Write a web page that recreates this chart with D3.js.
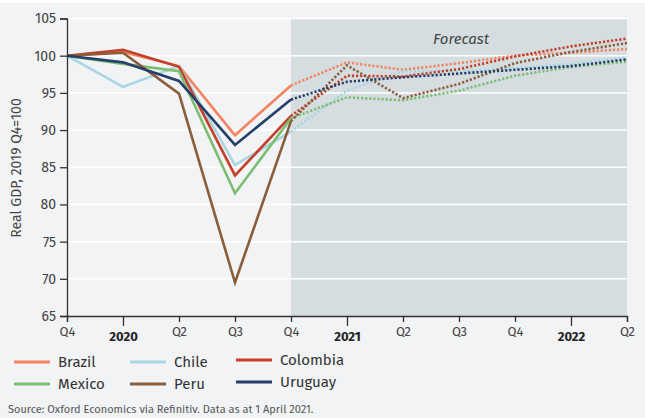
<!DOCTYPE html>
<html><head><meta charset="utf-8">
<script src="https://cdn.jsdelivr.net/npm/d3@7"></script>
<style>
html,body{margin:0;padding:0;background:#f1f3f5;}
svg{display:block;font-family:"Fira Sans","Open Sans","Noto Sans",sans-serif;}
</style></head><body>
<svg id="c" width="645" height="418"></svg>
<script>
const quarters = ["Q4","2020","Q2","Q3","Q4","2021","Q2","Q3","Q4","2022","Q2"];
const yearTicks = ["2020","2021","2022"];
const forecastStart = 4;
const yTicks = [65,70,75,80,85,90,95,100,105];
const countries = ["Brazil","Chile","Colombia","Mexico","Peru","Uruguay"];
const colors = ["#f4845f","#a9d6e3","#c4402b","#7dbd72","#8a5d3b","#243f69"];
const brazil   = [100,100.5,98.6,89.3,96.0,99.1,98.1,99.0,100.0,100.4,100.9];
const chile    = [100,95.8,98.6,85.3,89.8,95.3,97.9,97.9,98.3,98.9,99.8];
const colombia = [100,100.8,98.5,83.9,91.9,97.3,97.2,98.2,99.9,101.25,102.3];
const mexico   = [100,98.9,97.9,81.5,91.6,94.4,94.0,95.3,97.3,98.5,99.2];
const peru     = [100,100.4,94.9,69.5,91.2,98.7,94.3,96.2,99.0,100.5,101.7];
const uruguay  = [100,99.1,96.6,88.0,94.1,96.5,97.1,97.6,98.1,98.6,99.5];
const series = [brazil,chile,colombia,mexico,peru,uruguay];

const svg = d3.select("#c");
svg.append("rect").attr("x",0).attr("y",0).attr("width",645).attr("height",3).attr("fill","#ffffff");
const L=67,R=627,T=18.5,B=316;
const x = d3.scalePoint().domain(d3.range(quarters.length)).range([L,R]);
const y = d3.scaleLinear().domain([65,105]).range([B,T]);

// forecast shading
svg.append("rect").attr("x",x(forecastStart)).attr("y",y(105)).attr("width",x(quarters.length-1)-x(forecastStart))
  .attr("height",y(65)-y(105)).attr("fill","#d5dde0");
// grid
svg.selectAll("line.grid").data(yTicks.filter(d=>d>65)).enter().append("line")
  .attr("x1",L).attr("x2",R).attr("y1",d=>y(d)).attr("y2",d=>y(d))
  .attr("stroke","#ffffff").attr("stroke-width",1.5);
svg.append("text").attr("x",(x(forecastStart)+R)/2+2).attr("y",44).attr("text-anchor","middle")
  .attr("font-style","italic").attr("font-size",15).attr("fill","#444").text("Forecast");

// lines
series.forEach((s,k)=>{
  const solid = s.slice(0,forecastStart+1);
  svg.append("path").attr("d",d3.line().x((d,i)=>x(i)).y(d=>y(d))(solid))
    .attr("fill","none").attr("stroke",colors[k]).attr("stroke-width",2.6).attr("stroke-linejoin","miter");
  const dots = s.slice(forecastStart);
  svg.append("path").attr("d",d3.line().x((d,i)=>x(i+forecastStart)).y(d=>y(d))(dots))
    .attr("fill","none").attr("stroke",colors[k]).attr("stroke-width",2.6).attr("stroke-dasharray","2.2,1.9");
});

// axes
const ya = d3.axisLeft(y).tickValues(yTicks).tickSize(7).tickPadding(4);
const gy = svg.append("g").attr("transform",`translate(${L},0)`).call(ya);
gy.select(".domain").attr("stroke","#333").attr("stroke-width",1.3);
gy.selectAll(".tick line").attr("stroke","#333").attr("stroke-width",1.3);
gy.selectAll(".tick text").attr("font-size",14).attr("fill","#444").attr("font-family","'Fira Sans','Open Sans',sans-serif");

const xa = d3.axisBottom(x).tickFormat(i=>quarters[i]).tickSize(6).tickPadding(5);
const gx = svg.append("g").attr("transform",`translate(0,${B})`).call(xa);
gx.select(".domain").attr("stroke","#333").attr("stroke-width",1.3);
gx.selectAll(".tick line").attr("stroke","#333").attr("stroke-width",1.3);
gx.selectAll(".tick text").attr("font-size",13).attr("fill","#444").attr("font-family","'Fira Sans','Open Sans',sans-serif")
  .filter(i=>yearTicks.includes(quarters[i])).attr("font-weight","bold").attr("fill","#222").attr("dy","1.1em");
gx.selectAll(".tick line").filter(i=>yearTicks.includes(quarters[i])).attr("y2",10);

svg.append("text").attr("transform","translate(21,168) rotate(-90)").attr("text-anchor","middle")
  .attr("font-size",14).attr("fill","#444").text("Real GDP, 2019 Q4=100");

// legend
const legPos = [[14,362],[130,362],[236,360],[14,384],[130,384],[236,382]];
countries.forEach((c,k)=>{
  const [lx,ly]=legPos[k];
  svg.append("line").attr("x1",lx).attr("x2",lx+36).attr("y1",ly).attr("y2",ly)
    .attr("stroke",colors[k]).attr("stroke-width",2.8);
  svg.append("text").attr("x",lx+44).attr("y",ly+5).attr("font-size",15).attr("fill","#333").text(c);
});
svg.append("text").attr("x",8).attr("y",413).attr("font-size",11).attr("fill","#555")
  .text("Source: Oxford Economics via Refinitiv. Data as at 1 April 2021.");
</script></body></html>
